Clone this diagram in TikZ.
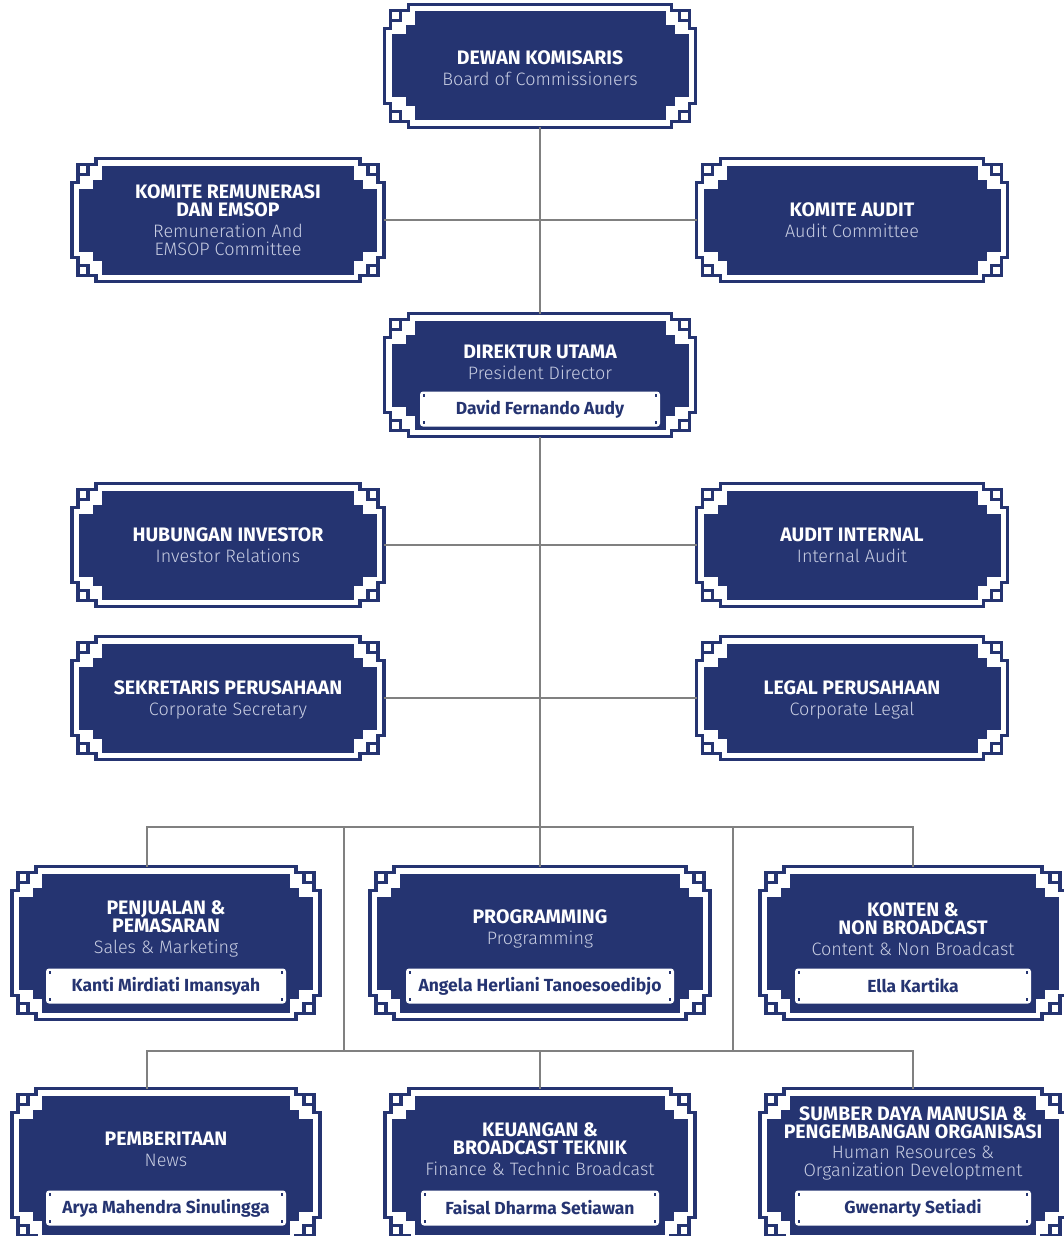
\documentclass[tikz,border=0pt]{standalone}
\usepackage{fontspec}
\setmainfont{Fira Sans}
\newfontfamily\lightfont{Fira Sans Light}
\usetikzlibrary{calc,backgrounds}

\definecolor{navy}{RGB}{37,52,113}
\definecolor{subblue}{RGB}{200,205,226}
\definecolor{linkgray}{RGB}{128,128,128}

\newcommand\subline[1]{{\lightfont\mdseries\fontsize{18}{18}\selectfont\color{subblue}#1}}

% fret frame drawn round a named box
\newcommand\orgframe[1]{%
  \fill[navy] ([shift={(7,30)}]#1.north west) rectangle ([shift={(-7,-30)}]#1.south east);
  \fill[navy] ([shift={(30,7)}]#1.north west) rectangle ([shift={(-30,-7)}]#1.south east);
  \draw[framepen] ([shift={(24,0)}]#1.north west) -- ([shift={(-24,0)}]#1.north east);
  \draw[framepen] ([shift={(24,0)}]#1.south west) -- ([shift={(-24,0)}]#1.south east);
  \draw[framepen] ([shift={(0,24)}]#1.north west) -- ([shift={(0,-24)}]#1.south west);
  \draw[framepen] ([shift={(0,24)}]#1.north east) -- ([shift={(0,-24)}]#1.south east);
  \foreach \cn/\sx/\sy in {north west/1/1, north east/-1/1, south west/1/-1, south east/-1/-1} {
    \begin{scope}[shift={(#1.\cn)}, xscale=\sx, yscale=\sy]
      \draw[framepen] (6,6) rectangle (16,16);
      \draw[framepen] (0,24) -| (6,16) (16,6) -| (24,0);
      \fill[navy] (21,21) rectangle (31,31);
    \end{scope}
  }%
}

\begin{document}
\begin{tikzpicture}[x=1pt, y=-1pt,
  link/.style={draw=linkgray, line width=1.8pt},
  framepen/.style={draw=navy, line width=3.2pt, line cap=rect},
  orgbox/.style={minimum width=311pt, minimum height=123pt, inner sep=0pt, outer sep=0pt},
  tallbox/.style={orgbox, minimum width=308pt, minimum height=153pt},
  boxtext/.style={text=white, align=center, inner sep=0pt, font=\fontsize{19.5}{18}\selectfont\bfseries},
  namebar/.style={fill=white, rounded corners=3pt, minimum height=35pt, text=navy, inner sep=0pt,
    font=\fontsize{17.5}{18}\selectfont\bfseries}
]
\useasboundingbox (0,0) rectangle (1064,1236);

% Board
\node[orgbox] (dk) at (540,66) {};
\node[boxtext] (dk-t) at ([yshift=-2pt]dk.center) {DEWAN KOMISARIS\\[3pt]\subline{Board of Commissioners}};

% Committees
\node[orgbox, minimum width=312pt] (krem) at (228,220) {};
\node[boxtext] (krem-t) at (krem) {KOMITE REMUNERASI\\DAN EMSOP\\[3pt]\subline{Remuneration And}\\\subline{EMSOP Committee}};
\node[orgbox] (kaud) at (852,220) {};
\node[boxtext] (kaud-t) at (kaud) {KOMITE AUDIT\\[3pt]\subline{Audit Committee}};

% President Director
\node[orgbox] (du) at (540,375) {};
\node[boxtext] (du-t) at ([yshift=13pt]du.center) {DIREKTUR UTAMA\\[3pt]\subline{President Director}};
\node[namebar, minimum width=240pt] (du-n) at ([yshift=-34pt]du.center) {David Fernando Audy};

% Staff units
\node[orgbox, minimum width=312pt] (hi) at (228,545) {};
\node[boxtext] (hi-t) at (hi) {HUBUNGAN INVESTOR\\[3pt]\subline{Investor Relations}};
\node[orgbox] (ai) at (852,545) {};
\node[boxtext] (ai-t) at (ai) {AUDIT INTERNAL\\[3pt]\subline{Internal Audit}};
\node[orgbox, minimum width=312pt] (sp) at (228,698) {};
\node[boxtext] (sp-t) at ([yshift=-2pt]sp.center) {SEKRETARIS PERUSAHAAN\\[3pt]\subline{Corporate Secretary}};
\node[orgbox] (lp) at (852,698) {};
\node[boxtext] (lp-t) at ([yshift=-2pt]lp.center) {LEGAL PERUSAHAAN\\[3pt]\subline{Corporate Legal}};

% Directorates, first row
\node[tallbox] (pp) at (166,943) {};
\node[boxtext] (pp-t) at ([yshift=14pt]pp.center) {PENJUALAN \&\\PEMASARAN\\[3pt]\subline{Sales \& Marketing}};
\node[namebar, minimum width=240pt] (pp-n) at ([yshift=-43pt]pp.center) {Kanti Mirdiati Imansyah};

\node[tallbox, minimum width=340pt] (prog) at (540,943) {};
\node[boxtext] (prog-t) at ([yshift=14pt]prog.center) {PROGRAMMING\\[3pt]\subline{Programming}};
\node[namebar, minimum width=268pt] (prog-n) at ([yshift=-43pt]prog.center) {Angela Herliani Tanoesoedibjo};

\node[tallbox, minimum width=306pt] (kn) at (913,943) {};
\node[boxtext] (kn-t) at ([yshift=14pt]kn.center) {KONTEN \&\\NON BROADCAST\\[3pt]\subline{Content \& Non Broadcast}};
\node[namebar, minimum width=236pt] (kn-n) at ([yshift=-43pt]kn.center) {Ella Kartika};

% Directorates, second row
\node[tallbox] (pb) at (166,1165) {};
\node[boxtext] (pb-t) at ([yshift=16pt]pb.center) {PEMBERITAAN\\[3pt]\subline{News}};
\node[namebar, minimum width=240pt] (pb-n) at ([yshift=-43pt]pb.center) {Arya Mahendra Sinulingga};

\node[tallbox, minimum width=310pt] (keu) at (540,1165) {};
\node[boxtext] (keu-t) at ([yshift=16pt]keu.center) {KEUANGAN \&\\BROADCAST TEKNIK\\[3pt]\subline{Finance \& Technic Broadcast}};
\node[namebar, minimum width=238pt] (keu-n) at ([yshift=-43pt]keu.center) {Faisal Dharma Setiawan};

\node[tallbox, minimum width=306pt] (sdm) at (913,1165) {};
\node[boxtext] (sdm-t) at ([yshift=22pt]sdm.center) {SUMBER DAYA MANUSIA \&\\PENGEMBANGAN ORGANISASI\\[2pt]\subline{Human Resources \&}\\\subline{Organization Developtment}};
\node[namebar, minimum width=236pt] (sdm-n) at ([yshift=-43pt]sdm.center) {Gwenarty Setiadi};

% small dots in the name bars
\foreach \n in {du-n,pp-n,prog-n,kn-n,pb-n,keu-n,sdm-n} {
  \fill[navy] ([shift={(3,3)}]\n.north west) rectangle +(2.5,2.5);
  \fill[navy] ([shift={(-3,3)}]\n.north east) rectangle +(-2.5,2.5);
  \fill[navy] ([shift={(3,-3)}]\n.south west) rectangle +(2.5,-2.5);
  \fill[navy] ([shift={(-3,-3)}]\n.south east) rectangle +(-2.5,-2.5);
}

% Frames
\begin{scope}[on background layer]
  \foreach \b in {dk,krem,kaud,du,hi,ai,sp,lp,pp,prog,kn,pb,keu,sdm}
    \orgframe{\b};
\end{scope}

% Lines
\coordinate (bus1) at (540,827);
\coordinate (bus2) at (540,1051);
\draw[link] (dk.south) -- (du.north);
\draw[link] (krem.east) -- (kaud.west);
\draw[link] (du.south) -- (prog.north);
\draw[link] (hi.east) -- (ai.west);
\draw[link] (sp.east) -- (lp.west);
\draw[link] ([xshift=-19pt]pp.north) |- (bus1) -| (kn.north);
\draw[link] ([xshift=-196pt]bus1) -- ([xshift=-196pt]bus2);
\draw[link] ([xshift=193pt]bus1) -- ([xshift=193pt]bus2);
\draw[link] ([xshift=-19pt]pb.north) |- (bus2) -| (sdm.north);
\draw[link] (bus2) -- (keu.north);

\end{tikzpicture}
\end{document}
